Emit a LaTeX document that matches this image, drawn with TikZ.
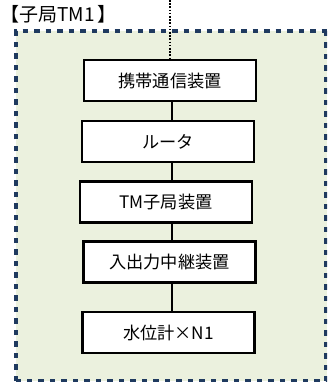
\documentclass[tikz,border=0pt]{standalone}
\usepackage{fontspec}
\setmainfont{Noto Sans CJK JP}
\usepackage{tikz}
\usetikzlibrary{positioning}
\definecolor{framefill}{HTML}{EBF1DE}
\definecolor{frameline}{HTML}{1F3A5F}

\begin{document}
\begin{tikzpicture}[x=1pt,y=-1pt]
\tikzstyle{every node}+=[inner sep=0pt]
\tikzstyle{unitbox}=[draw=black,line width=2.4pt,fill=white,minimum width=172pt,minimum height=41pt,font=\fontsize{17.2}{20}\selectfont]
\useasboundingbox (0,0) rectangle (327,382);
\clip (0,0) rectangle (327,382);
\fill [framefill] (16,31) rectangle (327,381);
\draw [frameline,line width=3.8pt,dash pattern=on 5.5pt off 6pt] (16,381) -- (16,31) -- (327,31);
\draw [frameline,line width=3.8pt,dash pattern=on 5.5pt off 6pt] (326,31) -- (326,381) -- (16,381);
\node [anchor=base west,font=\fontsize{19}{22}\selectfont] (title) at (0,22) {【子局TM1\hspace{3pt}】};
\node [unitbox] (phone) at (170,80.5) {携帯通信装置};
\node [unitbox] (router) at (168,141.5) {ルータ};
\node [unitbox] (tm) at (166,202) {TM子局装置};
\node [unitbox] (relay) at (169.5,262) {入出力中継装置};
\node [unitbox] (gauge) at (168.5,332.5) {水位計×N1};
\coordinate (spine) at (171.7,0);
\coordinate (top) at (170,0);
\draw [black,line width=1.8pt,line cap=butt,dash pattern=on 1.6pt off 1.6pt] (top) -- (top |- phone.north);
\draw [black,line width=1.8pt] (spine |- phone.south) -- (spine |- router.north);
\draw [black,line width=1.8pt] (spine |- router.south) -- (spine |- tm.north);
\draw [black,line width=1.8pt] (spine |- tm.south) -- (spine |- relay.north);
\draw [black,line width=1.8pt] (spine |- relay.south) -- (spine |- gauge.north);
\end{tikzpicture}
\end{document}
